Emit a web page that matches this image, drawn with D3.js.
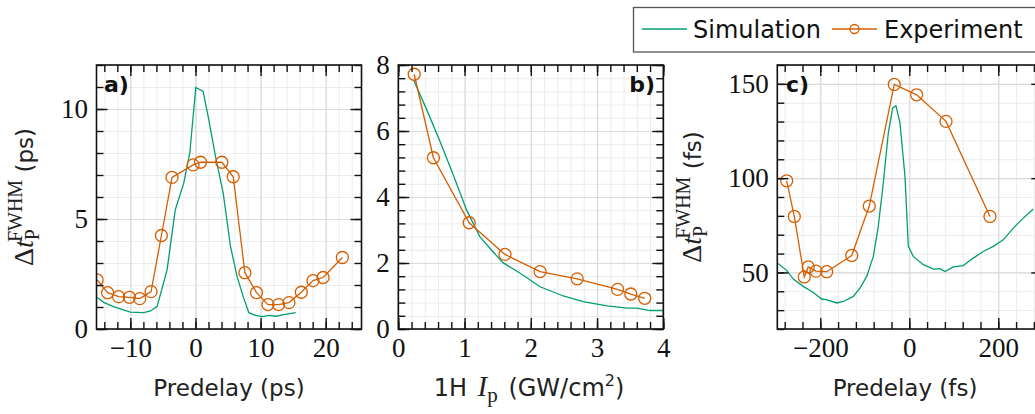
<!DOCTYPE html>
<html>
<head>
<meta charset="utf-8">
<script src="https://cdn.jsdelivr.net/npm/d3@7"></script>
<style>
  html, body { margin: 0; padding: 0; background: #fff; }
  svg { display: block; }
</style>
</head>
<body>
<script>
// ---- data: (a) pulse width vs predelay, ps ----
const aSimX = [-15.1, -14.1, -12.6, -10, -7.95, -6.9, -5.9, -5.4, -4.36, -3.1, -1.8, -0.87, 0.05, 1.18, 2.05, 3.08, 4.26, 5.38, 6.4, 7.33, 8.2, 9.23, 10.26, 11.28, 12.3, 13.6, 15.4];
const aSimY = [1.43, 1.21, 1.02, 0.77, 0.74, 0.82, 1.02, 1.55, 2.69, 5.42, 6.63, 8.0, 10.98, 10.80, 9.51, 7.84, 6.18, 3.75, 2.38, 1.47, 0.74, 0.62, 0.56, 0.62, 0.58, 0.65, 0.74];
const aExpX = [-15.1, -13.5, -11.8, -10.15, -8.56, -6.82, -5.23, -3.6, -0.36, 0.77, 4.05, 5.8, 7.59, 9.38, 11.13, 12.77, 14.36, 16.26, 18.05, 19.6, 22.56];
const aExpY = [2.23, 1.65, 1.47, 1.44, 1.38, 1.70, 4.25, 6.89, 7.46, 7.58, 7.58, 6.92, 2.56, 1.65, 1.11, 1.11, 1.20, 1.67, 2.20, 2.34, 3.25];

// ---- data: (b) pulse width vs 1H intensity, GW/cm^2 ----
const bSimX = [0.23, 0.43, 0.63, 0.83, 1.03, 1.23, 1.43, 1.58, 1.84, 2.14, 2.49, 2.79, 3.15, 3.45, 3.60, 3.80, 4.0];
const bSimY = [7.55, 6.64, 5.68, 4.67, 3.61, 2.80, 2.34, 2.01, 1.69, 1.28, 1.0, 0.83, 0.70, 0.63, 0.63, 0.56, 0.56];
const bExpX = [0.24, 0.53, 1.07, 1.61, 2.14, 2.70, 3.31, 3.51, 3.72];
const bExpY = [7.72, 5.19, 3.22, 2.26, 1.74, 1.52, 1.20, 1.06, 0.93];

// ---- data: (c) pulse width vs predelay, fs ----
const cSimX = [-296.6, -275.5, -260.7, -238.2, -215.7, -196.9, -185, -163.1, -148.3, -125.8, -110.8, -95.7, -80.8, -69.7, -58.4, -47.2, -37.3, -29.9, -20.9, -9.7, -2.2, 9, 31.5, 54, 69, 80.2, 98.9, 121.3, 143.8, 166.3, 188.8, 211.2, 233.7, 256.2, 278.7];
const cSimY = [55.0, 51.1, 46.5, 42.6, 39.4, 35.9, 35.5, 33.8, 34.6, 37.3, 41.7, 47.9, 58.5, 74.4, 97.4, 123.9, 137.2, 138.4, 129.2, 100.9, 63.8, 58.5, 54.1, 51.8, 52, 50.5, 52.9, 53.6, 57.6, 61.1, 63.8, 67.3, 73.5, 78.8, 83.6];
const cExpX = [-275.5, -258.4, -236, -227, -209.7, -185.6, -129.4, -89.9, -33.7, 16.6, 82.5, 181.3];
const cExpY = [98.6, 79.7, 47.6, 52.9, 50.7, 50.4, 59.0, 85.2, 149.7, 144.2, 130.1, 79.7];

// ---- tick values ----
const aXTicks = [-10, 0, 10, 20];
const aYTicks = [0, 5, 10];
const bXTicks = [0, 1, 2, 3, 4];
const bYTicks = [0, 2, 4, 6, 8];
const cXTicks = [-200, 0, 200];
const cYTicks = [50, 100, 150];

const seriesNames = ["Simulation", "Experiment"];
const simColor = "#009E73";
const expColor = "#D55E00";

const W = 1035, H = 414;
const SERIF = "'Liberation Serif', 'DejaVu Serif', serif";
const SANS = "'DejaVu Sans', sans-serif";

const svg = d3.select("body").append("svg")
  .attr("width", W).attr("height", H)
  .attr("viewBox", `0 0 ${W} ${H}`);
svg.append("rect").attr("width", W).attr("height", H).attr("fill", "#fff");

const plotTop = 65, plotBottom = 329;

function range(a, b, step) {
  const out = [];
  const n = Math.round((b - a) / step);
  for (let i = 0; i <= n; i++) out.push(+(a + i * step).toFixed(6));
  return out;
}

function drawPanel(p) {
  const x = d3.scaleLinear().domain(p.xDomain).range([p.left, p.right]);
  const y = d3.scaleLinear().domain(p.yDomain).range([plotBottom, plotTop]);
  const g = svg.append("g");
  const h = plotBottom - plotTop, w = p.right - p.left;

  const xMinor = range(p.xMinorStart, p.xDomain[1], p.xMinorStep).filter(v => v >= p.xDomain[0] && v <= p.xDomain[1]);
  const yMinor = range(p.yMinorStart, p.yDomain[1], p.yMinorStep).filter(v => v >= p.yDomain[0] && v <= p.yDomain[1]);

  // grid
  const grid = g.append("g");
  grid.append("g").attr("transform", `translate(0,${plotBottom})`)
    .call(d3.axisBottom(x).tickValues(xMinor).tickSize(-h).tickFormat(""))
    .call(s => s.select(".domain").remove())
    .call(s => s.selectAll("line").attr("stroke", "#ececec").attr("stroke-width", 1));
  grid.append("g").attr("transform", `translate(${p.left},0)`)
    .call(d3.axisLeft(y).tickValues(yMinor).tickSize(-w).tickFormat(""))
    .call(s => s.select(".domain").remove())
    .call(s => s.selectAll("line").attr("stroke", "#ececec").attr("stroke-width", 1));
  grid.append("g").attr("transform", `translate(0,${plotBottom})`)
    .call(d3.axisBottom(x).tickValues(p.xTicks).tickSize(-h).tickFormat(""))
    .call(s => s.select(".domain").remove())
    .call(s => s.selectAll("line").attr("stroke", "#dadada").attr("stroke-width", 1.2));
  grid.append("g").attr("transform", `translate(${p.left},0)`)
    .call(d3.axisLeft(y).tickValues(p.yTicks).tickSize(-w).tickFormat(""))
    .call(s => s.select(".domain").remove())
    .call(s => s.selectAll("line").attr("stroke", "#dadada").attr("stroke-width", 1.2));

  // data
  const clipId = "clip-" + p.id;
  g.append("clipPath").attr("id", clipId)
    .append("rect").attr("x", p.left).attr("y", plotTop).attr("width", w).attr("height", h);
  const data = g.append("g").attr("clip-path", `url(#${clipId})`);
  const line = d3.line().x(d => x(d[0])).y(d => y(d[1]));
  const sim = p.simX.map((v, i) => [v, p.simY[i]]);
  const exp = p.expX.map((v, i) => [v, p.expY[i]]);
  data.append("path").datum(sim).attr("d", line)
    .attr("fill", "none").attr("stroke", simColor).attr("stroke-width", 1.3);
  data.append("path").datum(exp).attr("d", line)
    .attr("fill", "none").attr("stroke", expColor).attr("stroke-width", 1.3);
  data.selectAll("circle").data(exp).join("circle")
    .attr("cx", d => x(d[0])).attr("cy", d => y(d[1])).attr("r", 6)
    .attr("fill", "none").attr("stroke", expColor).attr("stroke-width", 1.3);

  // ticks (inward, mirrored on all sides)
  const styleAxis = s => {
    s.select(".domain").remove();
    s.selectAll("line").attr("stroke", "#111").attr("stroke-width", 1.4);
    s.selectAll("text").attr("font-family", SERIF).attr("font-size", 27).attr("fill", "#111");
  };
  const fmt = d3.format("");
  const axes = g.append("g");
  axes.append("g").attr("transform", `translate(0,${plotBottom})`)
    .call(d3.axisBottom(x).tickValues(xMinor).tickSize(-7).tickFormat("")).call(styleAxis);
  axes.append("g").attr("transform", `translate(0,${plotTop})`)
    .call(d3.axisTop(x).tickValues(xMinor).tickSize(-7).tickFormat("")).call(styleAxis);
  axes.append("g").attr("transform", `translate(${p.left},0)`)
    .call(d3.axisLeft(y).tickValues(yMinor).tickSize(-7).tickFormat("")).call(styleAxis);
  axes.append("g").attr("transform", `translate(${p.right},0)`)
    .call(d3.axisRight(y).tickValues(yMinor).tickSize(-7).tickFormat("")).call(styleAxis);

  axes.append("g").attr("transform", `translate(0,${plotBottom})`)
    .call(d3.axisBottom(x).tickValues(p.xTicks).tickSize(-11).tickPadding(9).tickFormat(fmt)).call(styleAxis);
  axes.append("g").attr("transform", `translate(0,${plotTop})`)
    .call(d3.axisTop(x).tickValues(p.xTicks).tickSize(-11).tickFormat("")).call(styleAxis);
  axes.append("g").attr("transform", `translate(${p.left},0)`)
    .call(d3.axisLeft(y).tickValues(p.yTicks).tickSize(-11).tickPadding(8.5).tickFormat(fmt)).call(styleAxis);
  axes.append("g").attr("transform", `translate(${p.right},0)`)
    .call(d3.axisRight(y).tickValues(p.yTicks).tickSize(-11).tickFormat("")).call(styleAxis);

  // frame
  g.append("rect").attr("x", p.left).attr("y", plotTop).attr("width", w).attr("height", h)
    .attr("fill", "none").attr("stroke", "#111").attr("stroke-width", 1.6);

  // panel tag
  g.append("text").attr("x", p.tagX).attr("y", 92).attr("text-anchor", p.tagAnchor)
    .attr("font-family", SANS).attr("font-weight", "bold").attr("font-size", 22)
    .attr("fill", "#111").text(p.tag);

  return { x, y, g };
}

drawPanel({
  id: "a", left: 96.5, right: 361.5, xDomain: [-15.2, 25.5], yDomain: [0, 12],
  xTicks: aXTicks, yTicks: aYTicks, xMinorStart: -14, xMinorStep: 2, yMinorStart: 0, yMinorStep: 1,
  simX: aSimX, simY: aSimY, expX: aExpX, expY: aExpY, tag: "a)", tagX: 104, tagAnchor: "start"
});
drawPanel({
  id: "b", left: 398.3, right: 663.3, xDomain: [0, 4], yDomain: [0, 8],
  xTicks: bXTicks, yTicks: bYTicks, xMinorStart: 0, xMinorStep: 0.2, yMinorStart: 0, yMinorStep: 0.4,
  simX: bSimX, simY: bSimY, expX: bExpX, expY: bExpY, tag: "b)", tagX: 655, tagAnchor: "end"
});
drawPanel({
  id: "c", left: 777.3, right: 1042.3, xDomain: [-296.6, 298.9], yDomain: [20, 160],
  xTicks: cXTicks, yTicks: cYTicks, xMinorStart: -280, xMinorStep: 40, yMinorStart: 20, yMinorStep: 10,
  simX: cSimX, simY: cSimY, expX: cExpX, expY: cExpY, tag: "c)", tagX: 786, tagAnchor: "start"
});

// axis titles
function yTitle(cx, unit) {
  const t = svg.append("text")
    .attr("transform", `translate(${cx},197) rotate(-90)`)
    .attr("text-anchor", "middle").attr("fill", "#222");
  t.append("tspan").attr("font-family", SERIF).attr("font-size", 28).text("Δ");
  t.append("tspan").attr("font-family", SERIF).attr("font-size", 28).attr("font-style", "italic").text("t");
  t.append("tspan").attr("font-family", SERIF).attr("font-size", 20).attr("dy", 6).text("P");
  t.append("tspan").attr("font-family", SERIF).attr("font-size", 20).attr("dx", -13).attr("dy", -17).text("FWHM");
  t.append("tspan").attr("font-family", SANS).attr("font-size", 23).attr("dy", 11).text(" (" + unit + ")");
}
yTitle(33, "ps");
yTitle(701, "fs");

function xTitleSimple(cx, s) {
  svg.append("text").attr("x", cx).attr("y", 396).attr("text-anchor", "middle")
    .attr("font-family", SANS).attr("font-size", 23).attr("fill", "#222").text(s);
}
xTitleSimple(229, "Predelay (ps)");
xTitleSimple(905, "Predelay (fs)");
{
  const t = svg.append("text").attr("x", 529).attr("y", 396).attr("text-anchor", "middle").attr("fill", "#222");
  t.append("tspan").attr("font-family", SANS).attr("font-size", 24).text("1H ");
  t.append("tspan").attr("font-family", SERIF).attr("font-size", 29).attr("font-style", "italic").attr("dx", 3).text("I");
  t.append("tspan").attr("font-family", SERIF).attr("font-size", 21).attr("dy", 6).text("p");
  t.append("tspan").attr("font-family", SANS).attr("font-size", 24).attr("dy", -6).attr("dx", 3).text(" (GW/cm");
  t.append("tspan").attr("font-family", SANS).attr("font-size", 16).attr("dy", -10).text("2");
  t.append("tspan").attr("font-family", SANS).attr("font-size", 24).attr("dy", 10).text(")");
}

// legend
const leg = svg.append("g");
leg.append("rect").attr("x", 633.5).attr("y", 7.5).attr("width", 420).attr("height", 44.5)
  .attr("fill", "#fff").attr("stroke", "#555").attr("stroke-width", 1.3);
leg.append("line").attr("x1", 642).attr("x2", 687).attr("y1", 29).attr("y2", 29)
  .attr("stroke", simColor).attr("stroke-width", 1.3);
leg.append("text").attr("x", 693).attr("y", 37.5).attr("font-family", SANS).attr("font-size", 24)
  .attr("fill", "#111").text(seriesNames[0]);
leg.append("line").attr("x1", 832).attr("x2", 877).attr("y1", 29).attr("y2", 29)
  .attr("stroke", expColor).attr("stroke-width", 1.3);
leg.append("circle").attr("cx", 854.5).attr("cy", 29).attr("r", 4.5)
  .attr("fill", "none").attr("stroke", expColor).attr("stroke-width", 1.3);
leg.append("text").attr("x", 884).attr("y", 37.5).attr("font-family", SANS).attr("font-size", 24)
  .attr("fill", "#111").text(seriesNames[1]);
</script>
</body>
</html>
